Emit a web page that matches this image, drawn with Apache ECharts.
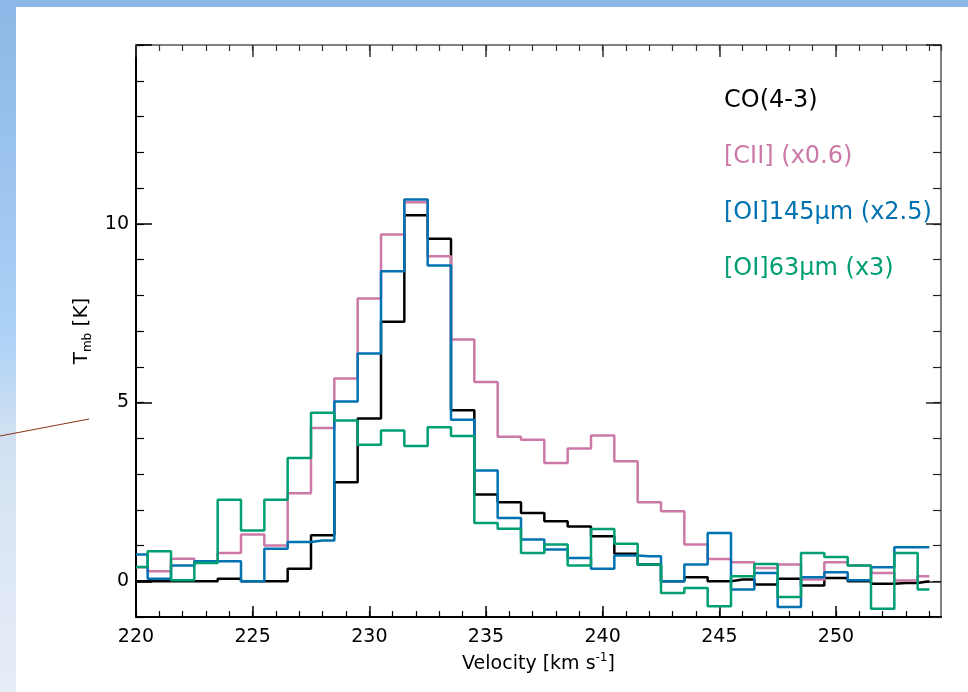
<!DOCTYPE html>
<html>
<head>
<meta charset="utf-8">
<title>Line profiles</title>
<script src="https://cdn.jsdelivr.net/npm/echarts@6/dist/echarts.min.js"></script>
<style>
    html, body {
        margin: 0;
        padding: 0;
        width: 968px;
        height: 692px;
        overflow: hidden;
        background: linear-gradient(to bottom, #8db7e6 0%, #9cc4ef 25%, #aed3f6 50%, #cfe0f2 62%, #dde7f4 80%, #e6edf8 100%);
    }
    #paper {
        position: absolute;
        left: 16px;
        top: 7px;
        right: 0;
        bottom: 0;
        background: #ffffff;
    }
    #line-chart {
        position: absolute;
        left: 0;
        top: 0;
        width: 968px;
        height: 692px;
    }
</style>
</head>
<body>
<div id="paper"></div>
<div id="line-chart"></div>
<script>
// velocity channels (km/s)
const velocity = [220, 221, 222, 223, 224, 225, 226, 227, 228, 229,
    230, 231, 232, 233, 234, 235, 236, 237, 238, 239,
    240, 241, 242, 243, 244, 245, 246, 247, 248, 249,
    250, 251, 252, 253, 254];

// T_mb [K]
const co43 = [0, 0, 0, 0, 0.07, 0, 0, 0.35, 1.29, 2.77,
    4.55, 7.26, 10.24, 9.58, 4.78, 2.43, 2.21, 1.91, 1.68, 1.53,
    1.26, 0.77, 0.47, 0, 0.11, 0, 0.05, -0.09, 0.07, -0.12,
    0.09, 0, -0.07, -0.05, 0];
const cii = [0.39, 0.28, 0.63, 0.56, 0.79, 1.31, 1.0, 2.46, 4.29, 5.67,
    7.91, 9.7, 10.6, 9.09, 6.76, 5.57, 4.04, 3.96, 3.31, 3.71,
    4.08, 3.36, 2.21, 1.96, 1.03, 0.62, 0.53, 0.37, 0.47, 0.05,
    0.53, 0.44, 0.23, 0.02, 0.14];
const oi145 = [0.75, 0.07, 0.44, 0.56, 0.56, 0, 0.91, 1.1, 1.14, 5.03,
    6.37, 8.67, 10.68, 8.83, 4.52, 3.1, 1.77, 1.17, 0.89, 0.65,
    0.35, 0.72, 0.7, 0, 0.47, 1.35, -0.23, 0.23, -0.72, 0.11,
    0.25, 0.03, 0.39, 0.95, 0.95];
const oi63 = [0.4, 0.84, 0.03, 0.51, 2.28, 1.42, 2.28, 3.45, 4.71, 4.5,
    3.82, 4.22, 3.78, 4.31, 4.06, 1.63, 1.47, 0.79, 1.03, 0.44,
    1.46, 1.05, 0.47, -0.33, -0.19, -0.7, 0.14, 0.48, -0.44, 0.79,
    0.68, 0.44, -0.77, 0.79, -0.23];

const seriesNames = ['CO(4-3)', '[CII] (x0.6)', '[OI]145\u03bcm (x2.5)', '[OI]63\u03bcm (x3)'];
const seriesColors = ['#000000', '#cc79a7', '#0072b2', '#009e73'];

const xMajorTicks = [220, 225, 230, 235, 240, 245, 250];
const yMajorTicks = [0, 5, 10, 15];
const yTickLabels = [0, 5, 10];

const FONT = 'DejaVu Sans';

function pairs(ys) {
    return velocity.map((v, i) => [v, ys[i]]);
}

// shared range of the frame axes (box with ticks on all four sides)
const frameX = {
    type: 'value',
    min: 220,
    max: 254.5,
    splitLine: { show: false }
};
const frameY = {
    type: 'value',
    min: -1,
    max: 15,
    splitLine: { show: false }
};

function line(color) {
    return { onZero: false, lineStyle: { color: color, width: 2 } };
}
const noLine = { show: false, onZero: false };

const option = {
    animation: false,
    backgroundColor: 'transparent',
    textStyle: { fontFamily: FONT },
    grid: { left: 136, top: 45, right: 27, bottom: 75, containLabel: false },
    legend: {
        orient: 'vertical',
        left: 714,
        top: 82,
        icon: 'none',
        itemWidth: 0,
        itemHeight: 10,
        itemGap: 28,
        selectedMode: false,
        textStyle: { fontSize: 24, lineHeight: 28, fontFamily: FONT },
        data: seriesNames.map((n, i) => ({ name: n, textStyle: { color: seriesColors[i] } }))
    },
    xAxis: [
        Object.assign({}, frameX, {
            position: 'bottom',
            interval: 1,
            axisLine: line('#000'),
            axisTick: { inside: true, length: 6, lineStyle: { color: '#000', width: 1.2 } },
            axisLabel: {
                showMaxLabel: false,
                margin: 11,
                fontSize: 19,
                color: '#000',
                fontFamily: FONT,
                formatter: v => (xMajorTicks.indexOf(v) >= 0 ? String(v) : '')
            },
            name: 'Velocity [km s{sup|-1}]',
            nameLocation: 'middle',
            nameGap: 30,
            nameTextStyle: {
                fontSize: 19,
                color: '#000',
                fontFamily: FONT,
                rich: { sup: { fontSize: 12, lineHeight: 12, padding: [0, 0, 12, 0], color: '#000', fontFamily: FONT } }
            }
        }),
        Object.assign({}, frameX, {
            position: 'bottom',
            axisLine: noLine,
            axisTick: { inside: true, length: 11, customValues: xMajorTicks, lineStyle: { color: '#000', width: 1.5 } },
            axisLabel: { show: false }
        }),
        Object.assign({}, frameX, {
            position: 'top',
            interval: 1,
            axisLine: line('#808080'),
            axisTick: { inside: true, length: 6, lineStyle: { color: '#333', width: 1.2 } },
            axisLabel: { show: false }
        }),
        Object.assign({}, frameX, {
            position: 'top',
            axisLine: noLine,
            axisTick: { inside: true, length: 12, customValues: xMajorTicks, lineStyle: { color: '#333', width: 1.5 } },
            axisLabel: { show: false }
        })
    ],
    yAxis: [
        Object.assign({}, frameY, {
            position: 'left',
            interval: 1,
            axisLine: line('#000'),
            axisTick: { inside: true, length: 8, lineStyle: { color: '#000', width: 1.2 } },
            axisLabel: {
                margin: 7,
                fontSize: 19,
                color: '#000',
                fontFamily: FONT,
                formatter: v => (yTickLabels.indexOf(v) >= 0 ? String(v) : '')
            },
            name: 'T{sub|mb} [K]',
            nameLocation: 'middle',
            nameRotate: 90,
            nameGap: 38,
            nameTextStyle: {
                fontSize: 20,
                color: '#000',
                fontFamily: FONT,
                rich: { sub: { fontSize: 12, lineHeight: 12, padding: [13, 0, 0, 0], color: '#000', fontFamily: FONT } }
            }
        }),
        Object.assign({}, frameY, {
            position: 'left',
            axisLine: noLine,
            axisTick: { inside: true, length: 16, customValues: yMajorTicks, lineStyle: { color: '#000', width: 1.5 } },
            axisLabel: { show: false }
        }),
        Object.assign({}, frameY, {
            position: 'right',
            interval: 1,
            axisLine: line('#808080'),
            axisTick: { inside: true, length: 8, lineStyle: { color: '#222', width: 1.2 } },
            axisLabel: { show: false }
        }),
        Object.assign({}, frameY, {
            position: 'right',
            axisLine: noLine,
            axisTick: { inside: true, length: 15, customValues: yMajorTicks, lineStyle: { color: '#222', width: 1.5 } },
            axisLabel: { show: false }
        })
    ],
    graphic: [
        {
            type: 'line',
            silent: true,
            shape: { x1: 0, y1: 436, x2: 89, y2: 419 },
            style: { stroke: '#8a3418', lineWidth: 1 }
        }
    ],
    series: [co43, cii, oi145, oi63].map((ys, i) => ({
        name: seriesNames[i],
        type: 'line',
        step: 'middle',
        symbol: 'none',
        xAxisIndex: 0,
        yAxisIndex: 0,
        color: seriesColors[i],
        lineStyle: { color: seriesColors[i], width: 2.5 },
        data: pairs(ys)
    }))
};

const chart = echarts.init(document.getElementById('line-chart'), null, { renderer: 'canvas' });
chart.setOption(option);
</script>
</body>
</html>
